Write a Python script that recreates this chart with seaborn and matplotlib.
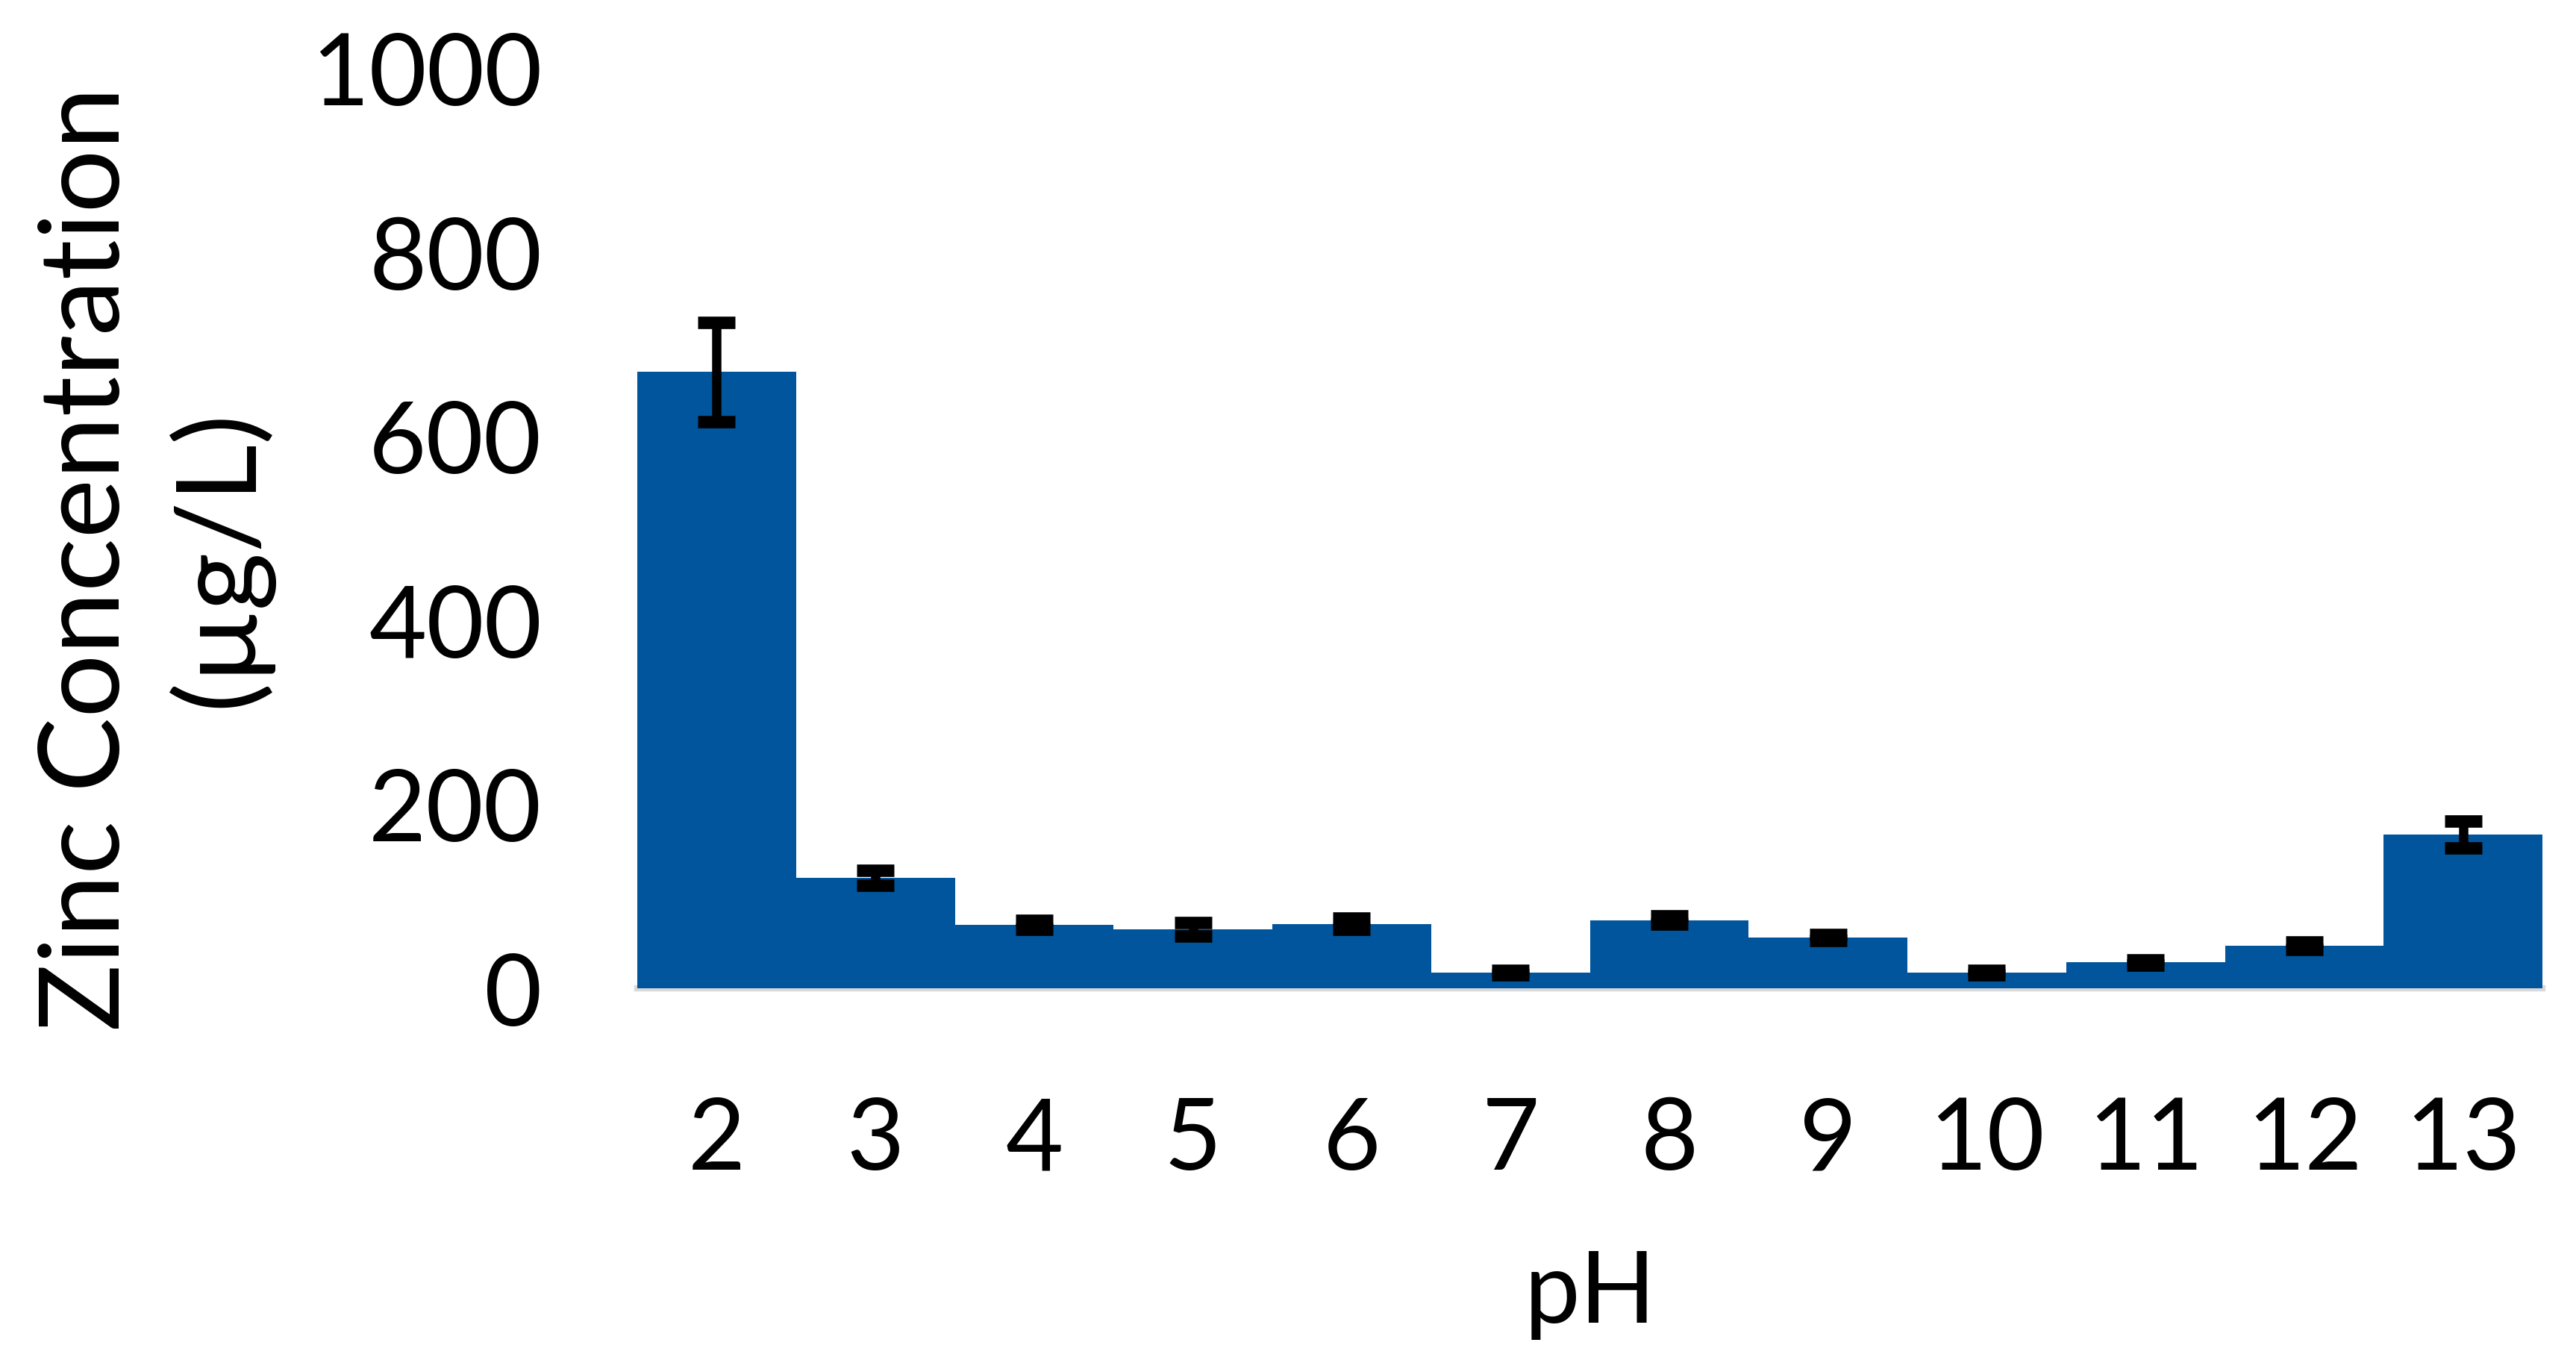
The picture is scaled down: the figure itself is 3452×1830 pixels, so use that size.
import pandas as pd
import matplotlib.pyplot as plt
import seaborn as sns

# pH values and measured zinc concentration (ug/L) with error
ph = ['2', '3', '4', '5', '6', '7', '8', '9', '10', '11', '12', '13']
zinc = [670, 120, 69, 64, 70, 17, 74, 55, 17, 28, 46, 167]
zinc_err = [54, 8.5, 5, 7, 6, 2.5, 4.5, 3, 2.5, 3, 4, 14.6]

df = pd.DataFrame({'pH': ph, 'zinc': zinc, 'err': zinc_err})

sns.set_style("white")
plt.rcParams['font.family'] = ['Lato', 'DejaVu Sans']
plt.rcParams['text.color'] = 'black'
plt.rcParams['axes.labelcolor'] = 'black'

fig = plt.figure(figsize=(17.26, 9.155), dpi=200)
ax = fig.add_axes([0.2474, 0.2764, 0.7396, 0.6731])

sns.barplot(x='pH', y='zinc', data=df, color='#01559D', saturation=1,
            width=1.0, errorbar=None, ax=ax, zorder=2)
for p in ax.patches:
    p.set_edgecolor('none')

# error bars on the category positions
ax.errorbar(x=range(len(df)), y=df['zinc'], yerr=df['err'], fmt='none',
            ecolor='black', elinewidth=4.5, capsize=9, capthick=6, zorder=3)

ax.set_ylim(0, 1000)
ax.set_xlim(-0.5, len(df) - 0.5)
ax.set_yticks([0, 200, 400, 600, 800, 1000])
ax.tick_params(axis='both', length=0, labelsize=48, colors='black')
ax.tick_params(axis='y', pad=46)
ax.tick_params(axis='x', pad=52)

for s in ['top', 'right', 'left']:
    ax.spines[s].set_visible(False)
ax.spines['bottom'].set_color('#D9D9D9')
ax.spines['bottom'].set_linewidth(3)
ax.spines['bottom'].set_zorder(1)

ax.set_xlabel('pH', fontsize=48, labelpad=30)
ax.set_ylabel('Zinc Concentration\n(µg/L)', fontsize=54, linespacing=1.3)
ax.yaxis.set_label_coords(-0.192, 0.468)

fig.savefig('out.png', dpi=200, facecolor='white')
